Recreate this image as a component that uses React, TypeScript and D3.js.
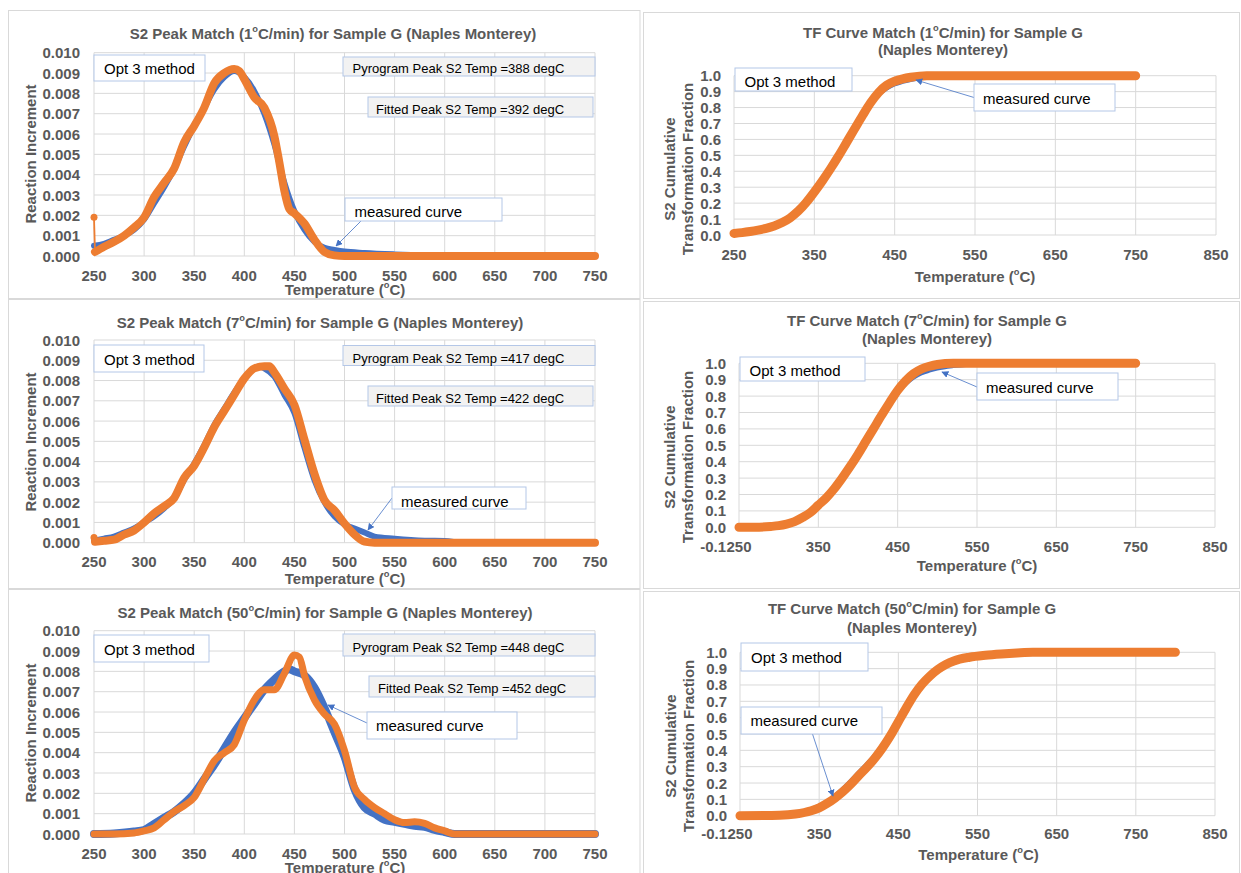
import React from "react";
import * as d3 from "d3";

// ---------------- DATA ----------------
const rates = [1, 7, 50];
const pyrogramPeakTemps = [388, 417, 448];
const fittedPeakTemps = [392, 422, 452];

const peakXTicks = [250, 300, 350, 400, 450, 500, 550, 600, 650, 700, 750];
const peakYTicks = [0, 0.001, 0.002, 0.003, 0.004, 0.005, 0.006, 0.007, 0.008, 0.009, 0.01];
const tfXTicks = [250, 350, 450, 550, 650, 750, 850];
const tfYTicks = [0, 0.1, 0.2, 0.3, 0.4, 0.5, 0.6, 0.7, 0.8, 0.9, 1.0];

// S2 peak, 1 C/min
const peak1MeasT = [250, 260, 270, 280, 290, 300, 310, 320, 330, 340, 350, 360, 370, 380, 390, 400, 410, 420, 430, 440, 450, 460, 470, 480, 490, 500, 520, 550, 580, 600, 750];
const peak1MeasV = [0.0005, 0.0006, 0.0008, 0.001, 0.0013, 0.0018, 0.0026, 0.0034, 0.0043, 0.0054, 0.0064, 0.0073, 0.0082, 0.0088, 0.0091, 0.0088, 0.0081, 0.007, 0.0055, 0.0036, 0.0022, 0.0013, 0.0007, 0.0004, 0.0003, 0.00022, 0.00015, 0.00008, 0.00003, 0, 0];
const peak1FitT = [250, 251, 260, 270, 280, 290, 300, 310, 320, 330, 340, 350, 360, 370, 380, 390, 395, 400, 410, 420, 430, 435, 440, 445, 450, 460, 470, 480, 490, 500, 750];
const peak1FitV = [0.0019, 0.0002, 0.00046, 0.0007, 0.001, 0.0014, 0.0019, 0.0029, 0.0036, 0.0043, 0.0056, 0.0064, 0.0073, 0.0085, 0.009, 0.0092, 0.0091, 0.0087, 0.0078, 0.0073, 0.0059, 0.0046, 0.0032, 0.0023, 0.0021, 0.0016, 0.0008, 0.0002, 0.00003, 0, 0];

// S2 peak, 7 C/min
const peak7MeasT = [250, 260, 270, 280, 290, 300, 310, 320, 330, 340, 350, 360, 370, 380, 390, 400, 410, 415, 420, 430, 440, 450, 460, 470, 480, 490, 500, 510, 520, 530, 550, 580, 600, 620, 750];
const peak7MeasV = [0.0001, 0.0002, 0.0003, 0.0005, 0.0007, 0.001, 0.0013, 0.0017, 0.0022, 0.0031, 0.0039, 0.0048, 0.0058, 0.0066, 0.0074, 0.0081, 0.0086, 0.0087, 0.0086, 0.0082, 0.0073, 0.0064, 0.0047, 0.0031, 0.002, 0.0013, 0.0009, 0.0007, 0.0005, 0.0003, 0.0002, 0.0001, 0.00008, 0, 0];
const peak7FitT = [250, 251, 260, 270, 280, 290, 300, 310, 320, 330, 340, 350, 360, 370, 380, 390, 400, 410, 420, 425, 430, 440, 450, 460, 470, 480, 490, 500, 510, 520, 530, 750];
const peak7FitV = [0.00026, 0.00005, 0.0001, 0.00015, 0.0004, 0.0006, 0.001, 0.00145, 0.0018, 0.0022, 0.0032, 0.0038, 0.0047, 0.0057, 0.0065, 0.0073, 0.0081, 0.0086, 0.0087, 0.0087, 0.0084, 0.0076, 0.0068, 0.0051, 0.0034, 0.0021, 0.0016, 0.00095, 0.0004, 0.00005, 0, 0];

// S2 peak, 50 C/min
const peak50MeasT = [250, 270, 290, 300, 310, 320, 330, 340, 350, 360, 370, 380, 390, 400, 410, 420, 430, 440, 445, 450, 460, 470, 480, 490, 500, 510, 520, 530, 540, 550, 560, 570, 580, 590, 600, 610, 750];
const peak50MeasV = [0, 0.00003, 0.00012, 0.0002, 0.0005, 0.0008, 0.0011, 0.0015, 0.002, 0.0027, 0.0034, 0.0042, 0.005, 0.0057, 0.0064, 0.0071, 0.0076, 0.008, 0.0081, 0.008, 0.0078, 0.0072, 0.0062, 0.005, 0.0038, 0.0022, 0.0013, 0.001, 0.0007, 0.0006, 0.0005, 0.0004, 0.00035, 0.0002, 0.0001, 0, 0];
const peak50FitT = [250, 270, 290, 300, 310, 320, 330, 340, 350, 360, 370, 380, 390, 400, 410, 420, 430, 440, 450, 455, 460, 470, 480, 490, 500, 510, 520, 530, 540, 550, 560, 570, 580, 590, 600, 610, 750];
const peak50FitV = [0, 0, 0.00005, 0.00015, 0.0003, 0.0007, 0.0011, 0.0014, 0.0018, 0.0027, 0.0036, 0.004, 0.0044, 0.0056, 0.0066, 0.0071, 0.0071, 0.0079, 0.0088, 0.0087, 0.0078, 0.0066, 0.0059, 0.0054, 0.0041, 0.0023, 0.0017, 0.0013, 0.001, 0.0007, 0.00056, 0.0006, 0.00052, 0.0003, 0.00015, 0, 0];

// TF curve, 1 C/min
const tf1MeasT = [250, 260, 270, 280, 290, 300, 310, 320, 330, 340, 350, 360, 370, 380, 390, 400, 410, 420, 430, 440, 450, 460, 470, 480, 500, 550, 600, 750];
const tf1MeasV = [0.015, 0.019, 0.025, 0.033, 0.043, 0.057, 0.077, 0.106, 0.147, 0.2, 0.265, 0.335, 0.41, 0.49, 0.575, 0.66, 0.742, 0.818, 0.875, 0.915, 0.942, 0.958, 0.97, 0.979, 0.99, 0.997, 1.0, 1.0];
const tf1FitT = [250, 260, 270, 280, 290, 300, 310, 320, 330, 340, 350, 360, 370, 380, 390, 400, 410, 420, 430, 440, 450, 460, 470, 490, 750];
const tf1FitV = [0.01, 0.015, 0.022, 0.031, 0.042, 0.057, 0.078, 0.108, 0.15, 0.205, 0.27, 0.34, 0.415, 0.495, 0.58, 0.665, 0.75, 0.83, 0.895, 0.94, 0.965, 0.98, 0.99, 1.0, 1.0];

// TF curve, 7 C/min
const tf7MeasT = [250, 270, 290, 300, 310, 320, 330, 340, 350, 360, 370, 380, 390, 400, 410, 420, 430, 440, 450, 460, 470, 480, 490, 500, 520, 550, 600, 650, 750];
const tf7MeasV = [0.0, 0.002, 0.007, 0.012, 0.022, 0.037, 0.062, 0.093, 0.138, 0.183, 0.238, 0.303, 0.373, 0.448, 0.528, 0.605, 0.68, 0.752, 0.815, 0.868, 0.908, 0.935, 0.952, 0.965, 0.98, 0.99, 0.998, 1.0, 1.0];
const tf7FitT = [250, 270, 290, 300, 310, 320, 330, 340, 350, 360, 370, 380, 390, 400, 410, 420, 430, 440, 450, 460, 470, 480, 490, 500, 520, 750];
const tf7FitV = [0.0, 0.0, 0.005, 0.01, 0.02, 0.035, 0.06, 0.09, 0.135, 0.18, 0.235, 0.3, 0.37, 0.445, 0.525, 0.605, 0.685, 0.762, 0.835, 0.893, 0.937, 0.965, 0.982, 0.993, 1.0, 1.0];

// TF curve, 50 C/min
const tf50MeasT = [250, 300, 320, 340, 360, 380, 400, 420, 430, 440, 450, 460, 470, 480, 490, 500, 520, 550, 600, 650, 800];
const tf50MeasV = [0.0, 0.005, 0.016, 0.045, 0.09, 0.17, 0.27, 0.375, 0.44, 0.515, 0.6, 0.685, 0.76, 0.82, 0.865, 0.905, 0.955, 0.98, 0.997, 1.0, 1.0];
const tf50FitT = [250, 300, 320, 340, 350, 360, 370, 380, 390, 400, 410, 420, 430, 440, 450, 460, 470, 480, 490, 500, 510, 520, 540, 560, 580, 600, 620, 800];
const tf50FitV = [0.0, 0.003, 0.01, 0.03, 0.048, 0.075, 0.108, 0.147, 0.193, 0.245, 0.295, 0.35, 0.415, 0.49, 0.575, 0.66, 0.74, 0.805, 0.855, 0.895, 0.925, 0.947, 0.97, 0.982, 0.99, 0.996, 1.0, 1.0];

// ---------------- STYLE ----------------
const FONT = '"Liberation Sans", Arial, Helvetica, sans-serif';
const GRAY = "#595959";
const GRID = "#d9d9d9";
const FRAME = "#d9d9d9";
const BLUE = "#4472c4";
const ORANGE = "#ed7d31";
const BOXLINE = "#b4c7e7";

function Deg({ pre, post }: { pre: string; post: string }) {
  return (
    <>
      <tspan>{pre}</tspan>
      <tspan dy={-4} fontSize="0.62em">o</tspan>
      <tspan dy={4}>{post}</tspan>
    </>
  );
}

type Box = { x: number; y: number; w: number; h: number; tx: number; ty: number };

function TextBox({ b, text, fs, fill }: { b: Box; text: string; fs: number; fill: string }) {
  return (
    <g>
      <rect x={b.x} y={b.y} width={b.w} height={b.h} fill={fill} stroke={BOXLINE} strokeWidth={1} />
      <text x={b.tx} y={b.ty} fontSize={fs} fill="#000" dominantBaseline="central" fontFamily={FONT}>
        {text}
      </text>
    </g>
  );
}

function Callout({ c }: { c: { x1: number; y1: number; x2: number; y2: number } }) {
  return (
    <line x1={c.x1} y1={c.y1} x2={c.x2} y2={c.y2} stroke={BLUE} strokeWidth={0.8} markerEnd="url(#arrowHead)" />
  );
}

function seriesPath(T: number[], V: number[], x: d3.ScaleLinear<number, number>, y: d3.ScaleLinear<number, number>) {
  const gen = d3
    .line<number>()
    .x((_, i) => x(T[i]))
    .y((v) => y(v))
    .curve(d3.curveMonotoneX);
  return gen(V) || "";
}

type PeakProps = {
  idx: number;
  frame: { x: number; y: number; w: number; h: number };
  titleX: number;
  titleY: number;
  yTop: number;
  yBot: number;
  xLabelY: number;
  xTitleY: number;
  yTitleY: number;
  opt: Box;
  pyro: Box;
  fit: Box;
  meas: Box;
  callout: { x1: number; y1: number; x2: number; y2: number };
  measT: number[];
  measV: number[];
  fitT: number[];
  fitV: number[];
  spike: boolean;
  blueW: number;
  orangeW: number;
};

function PeakPanel(p: PeakProps) {
  const x = d3.scaleLinear().domain([250, 750]).range([94, 595]);
  const y = d3.scaleLinear().domain([0, 0.01]).range([p.yBot, p.yTop]);
  const fT = p.spike ? p.fitT.slice(1) : p.fitT;
  const fV = p.spike ? p.fitV.slice(1) : p.fitV;
  return (
    <g fontFamily={FONT}>
      <rect x={p.frame.x} y={p.frame.y} width={p.frame.w} height={p.frame.h} fill="#fff" stroke={FRAME} />
      <text x={p.titleX} y={p.titleY} textAnchor="middle" dominantBaseline="central" fontSize={15} fontWeight="bold" fill={GRAY}>
        <Deg pre={`S2 Peak Match (${rates[p.idx]}`} post="C/min) for Sample G (Naples Monterey)" />
      </text>
      {peakYTicks.map((t) => (
        <line key={"h" + t} x1={x(250)} x2={x(750)} y1={y(t)} y2={y(t)} stroke={GRID} strokeWidth={1} />
      ))}
      {peakXTicks.map((t) => (
        <line key={"v" + t} x1={x(t)} x2={x(t)} y1={y(0)} y2={y(0.01)} stroke={GRID} strokeWidth={1} />
      ))}
      {peakYTicks.map((t) => (
        <text key={"yl" + t} x={80} y={y(t)} textAnchor="end" dominantBaseline="central" fontSize={15} fontWeight="bold" fill={GRAY}>
          {t.toFixed(3)}
        </text>
      ))}
      {peakXTicks.map((t) => (
        <text key={"xl" + t} x={x(t)} y={p.xLabelY} textAnchor="middle" dominantBaseline="central" fontSize={15} fontWeight="bold" fill={GRAY}>
          {t}
        </text>
      ))}
      <text x={345} y={p.xTitleY} textAnchor="middle" dominantBaseline="central" fontSize={15} fontWeight="bold" fill={GRAY}>
        <Deg pre="Temperature (" post="C)" />
      </text>
      <text
        transform={`translate(30,${p.yTitleY}) rotate(-90)`}
        textAnchor="middle"
        dominantBaseline="central"
        fontSize={15}
        fontWeight="bold"
        fill={GRAY}
      >
        Reaction Increment
      </text>
      <path d={seriesPath(p.measT, p.measV, x, y)} fill="none" stroke={BLUE} strokeWidth={p.blueW} strokeLinejoin="round" strokeLinecap="round" />
      {p.spike && (
        <>
          <line x1={x(p.fitT[0])} y1={y(p.fitV[0])} x2={x(p.fitT[1])} y2={y(p.fitV[1])} stroke={ORANGE} strokeWidth={1.8} />
          <circle cx={x(p.fitT[0])} cy={y(p.fitV[0])} r={3.5} fill={ORANGE} />
        </>
      )}
      <path d={seriesPath(fT, fV, x, y)} fill="none" stroke={ORANGE} strokeWidth={p.orangeW} strokeLinejoin="round" strokeLinecap="round" />
      <TextBox b={p.opt} text="Opt 3 method" fs={15} fill="#fff" />
      <TextBox b={p.pyro} text={`Pyrogram Peak S2 Temp =${pyrogramPeakTemps[p.idx]} degC`} fs={13} fill="#f2f2f2" />
      <TextBox b={p.fit} text={`Fitted Peak S2 Temp =${fittedPeakTemps[p.idx]} degC`} fs={13} fill="#f2f2f2" />
      <Callout c={p.callout} />
      <TextBox b={p.meas} text="measured curve" fs={15} fill="#fff" />
    </g>
  );
}

type TFProps = {
  idx: number;
  frame: { x: number; y: number; w: number; h: number };
  titleX: number;
  titleY1: number;
  titleY2: number;
  x0: number;
  x1: number;
  yTop: number;
  yBot: number;
  yTickRight: number;
  xLabelY: number;
  xTitleX: number;
  xTitleY: number;
  yTitleX1: number;
  yTitleX2: number;
  yTitleY: number;
  opt: Box;
  meas: Box;
  callout: { x1: number; y1: number; x2: number; y2: number };
  measT: number[];
  measV: number[];
  fitT: number[];
  fitV: number[];
  negLabel: boolean;
};

function TFPanel(p: TFProps) {
  const x = d3.scaleLinear().domain([250, 850]).range([p.x0, p.x1]);
  const y = d3.scaleLinear().domain([0, 1]).range([p.yBot, p.yTop]);
  return (
    <g fontFamily={FONT}>
      <rect x={p.frame.x} y={p.frame.y} width={p.frame.w} height={p.frame.h} fill="#fff" stroke={FRAME} />
      <text x={p.titleX} y={p.titleY1} textAnchor="middle" dominantBaseline="central" fontSize={15} fontWeight="bold" fill={GRAY}>
        <Deg pre={`TF Curve Match (${rates[p.idx]}`} post="C/min) for Sample G" />
      </text>
      <text x={p.titleX} y={p.titleY2} textAnchor="middle" dominantBaseline="central" fontSize={15} fontWeight="bold" fill={GRAY}>
        (Naples Monterey)
      </text>
      {tfYTicks.map((t) => (
        <line key={"h" + t} x1={p.x0} x2={p.x1} y1={y(t)} y2={y(t)} stroke={GRID} strokeWidth={1} />
      ))}
      {tfXTicks.map((t) => (
        <line key={"v" + t} x1={x(t)} x2={x(t)} y1={y(0)} y2={y(1)} stroke={GRID} strokeWidth={1} />
      ))}
      {tfYTicks.map((t) => (
        <text key={"yl" + t} x={p.yTickRight} y={y(t)} textAnchor="end" dominantBaseline="central" fontSize={15} fontWeight="bold" fill={GRAY}>
          {t.toFixed(1)}
        </text>
      ))}
      {p.negLabel && (
        <text x={p.yTickRight} y={p.xLabelY} textAnchor="end" dominantBaseline="central" fontSize={15} fontWeight="bold" fill={GRAY}>
          -0.1
        </text>
      )}
      {tfXTicks.map((t) => (
        <text key={"xl" + t} x={x(t)} y={p.xLabelY} textAnchor="middle" dominantBaseline="central" fontSize={15} fontWeight="bold" fill={GRAY}>
          {t}
        </text>
      ))}
      <text x={p.xTitleX} y={p.xTitleY} textAnchor="middle" dominantBaseline="central" fontSize={15} fontWeight="bold" fill={GRAY}>
        <Deg pre="Temperature (" post="C)" />
      </text>
      <text transform={`translate(${p.yTitleX1},${p.yTitleY}) rotate(-90)`} textAnchor="middle" dominantBaseline="central" fontSize={15} fontWeight="bold" fill={GRAY}>
        S2 Cumulative
      </text>
      <text transform={`translate(${p.yTitleX2},${p.yTitleY}) rotate(-90)`} textAnchor="middle" dominantBaseline="central" fontSize={15} fontWeight="bold" fill={GRAY}>
        Transformation Fraction
      </text>
      <path d={seriesPath(p.measT, p.measV, x, y)} fill="none" stroke={BLUE} strokeWidth={3} strokeLinejoin="round" strokeLinecap="round" />
      <path d={seriesPath(p.fitT, p.fitV, x, y)} fill="none" stroke={ORANGE} strokeWidth={9} strokeLinejoin="round" strokeLinecap="round" />
      <TextBox b={p.opt} text="Opt 3 method" fs={15} fill="#fff" />
      <Callout c={p.callout} />
      <TextBox b={p.meas} text="measured curve" fs={15} fill="#fff" />
    </g>
  );
}

export default function App() {
  return (
    <svg width={1241} height={873} style={{ position: "absolute", left: 0, top: 0, background: "#fff" }}>
      <defs>
        <marker id="arrowHead" viewBox="0 0 10 10" refX="9" refY="5" markerWidth="7" markerHeight="7" markerUnits="userSpaceOnUse" orient="auto">
          <path d="M0,0 L10,5 L0,10 z" fill={BLUE} />
        </marker>
      </defs>
      <rect x={0} y={0} width={1241} height={873} fill="#fff" />

      <PeakPanel
        idx={0}
        frame={{ x: 8.5, y: 10.5, w: 631.5, h: 288 }}
        titleX={333}
        titleY={33}
        yTop={52.7}
        yBot={256}
        xLabelY={275.5}
        xTitleY={289}
        yTitleY={154}
        opt={{ x: 94, y: 55, w: 111, h: 26, tx: 104, ty: 68 }}
        pyro={{ x: 343, y: 57, w: 252, h: 19, tx: 352.6, ty: 68 }}
        fit={{ x: 368, y: 97, w: 225, h: 20, tx: 376, ty: 109 }}
        meas={{ x: 345, y: 198, w: 157, h: 23, tx: 354.5, ty: 211 }}
        callout={{ x1: 361, y1: 221, x2: 336, y2: 246 }}
        measT={peak1MeasT}
        measV={peak1MeasV}
        fitT={peak1FitT}
        fitV={peak1FitV}
        spike={true}
        blueW={6}
        orangeW={8}
      />
      <PeakPanel
        idx={1}
        frame={{ x: 8.5, y: 299.5, w: 631.5, h: 289 }}
        titleX={320}
        titleY={322}
        yTop={340}
        yBot={542.7}
        xLabelY={561.5}
        xTitleY={578}
        yTitleY={442}
        opt={{ x: 94, y: 345, w: 110, h: 27, tx: 104, ty: 359 }}
        pyro={{ x: 343, y: 345.5, w: 252, h: 20, tx: 352.6, ty: 358 }}
        fit={{ x: 368, y: 386, w: 225, h: 20, tx: 376, ty: 398 }}
        meas={{ x: 392, y: 487, w: 134, h: 22, tx: 401, ty: 501 }}
        callout={{ x1: 392, y1: 498, x2: 368, y2: 530 }}
        measT={peak7MeasT}
        measV={peak7MeasV}
        fitT={peak7FitT}
        fitV={peak7FitV}
        spike={true}
        blueW={6}
        orangeW={8}
      />
      <PeakPanel
        idx={2}
        frame={{ x: 8.5, y: 589.5, w: 631.5, h: 290 }}
        titleX={325}
        titleY={612}
        yTop={630.7}
        yBot={834}
        xLabelY={853}
        xTitleY={867}
        yTitleY={733}
        opt={{ x: 94, y: 635, w: 115, h: 27, tx: 104, ty: 649 }}
        pyro={{ x: 343, y: 634, w: 252, h: 22, tx: 352.6, ty: 647 }}
        fit={{ x: 369, y: 676, w: 226, h: 21, tx: 378, ty: 688 }}
        meas={{ x: 367, y: 712, w: 150, h: 27, tx: 376, ty: 725 }}
        callout={{ x1: 367, y1: 723, x2: 328, y2: 705 }}
        measT={peak50MeasT}
        measV={peak50MeasV}
        fitT={peak50FitT}
        fitV={peak50FitV}
        spike={false}
        blueW={8}
        orangeW={7}
      />

      <TFPanel
        idx={0}
        frame={{ x: 643.5, y: 12.5, w: 596, h: 286 }}
        titleX={943}
        titleY1={31.5}
        titleY2={49.5}
        x0={734}
        x1={1216}
        yTop={75.7}
        yBot={235}
        yTickRight={721}
        xLabelY={254}
        xTitleX={975}
        xTitleY={276}
        yTitleX1={669}
        yTitleX2={687}
        yTitleY={169}
        opt={{ x: 735, y: 68, w: 117, h: 23, tx: 744.5, ty: 81 }}
        meas={{ x: 974, y: 84, w: 141, h: 27, tx: 983, ty: 98.5 }}
        callout={{ x1: 974, y1: 97.5, x2: 916, y2: 80 }}
        measT={tf1MeasT}
        measV={tf1MeasV}
        fitT={tf1FitT}
        fitV={tf1FitV}
        negLabel={false}
      />
      <TFPanel
        idx={1}
        frame={{ x: 643.5, y: 301.5, w: 596, h: 287 }}
        titleX={927}
        titleY1={320}
        titleY2={338}
        x0={739}
        x1={1215}
        yTop={363.3}
        yBot={527.3}
        yTickRight={726}
        xLabelY={546}
        xTitleX={977}
        xTitleY={565}
        yTitleX1={669}
        yTitleX2={687}
        yTitleY={457}
        opt={{ x: 740, y: 357, w: 125, h: 24, tx: 749.6, ty: 370.5 }}
        meas={{ x: 977, y: 373, w: 141, h: 27, tx: 986, ty: 387.5 }}
        callout={{ x1: 977, y1: 387, x2: 942, y2: 372 }}
        measT={tf7MeasT}
        measV={tf7MeasV}
        fitT={tf7FitT}
        fitV={tf7FitV}
        negLabel={true}
      />
      <TFPanel
        idx={2}
        frame={{ x: 643.5, y: 591.5, w: 596, h: 290 }}
        titleX={912}
        titleY1={608}
        titleY2={627}
        x0={740}
        x1={1215}
        yTop={652.3}
        yBot={815.7}
        yTickRight={727}
        xLabelY={833.5}
        xTitleX={978.5}
        xTitleY={853.5}
        yTitleX1={670}
        yTitleX2={688}
        yTitleY={746}
        opt={{ x: 741, y: 643, w: 127, h: 28, tx: 751, ty: 657.5 }}
        meas={{ x: 741, y: 707, w: 141, h: 27, tx: 750.5, ty: 720.5 }}
        callout={{ x1: 812.5, y1: 734, x2: 833, y2: 796 }}
        measT={tf50MeasT}
        measV={tf50MeasV}
        fitT={tf50FitT}
        fitV={tf50FitV}
        negLabel={true}
      />
    </svg>
  );
}
